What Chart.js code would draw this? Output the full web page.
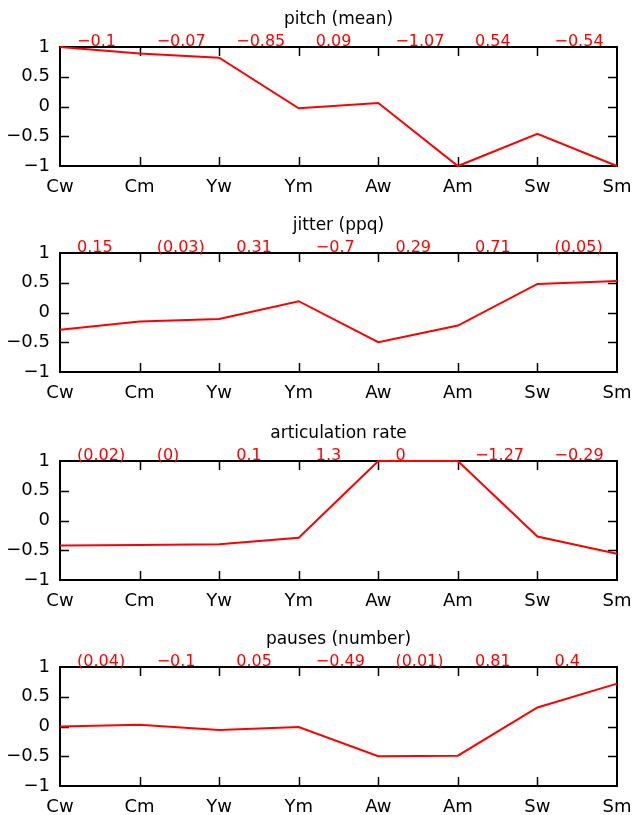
<!DOCTYPE html>
<html>
<head>
<meta charset="utf-8">
<script src="https://cdn.jsdelivr.net/npm/chart.js@4.4.1/dist/chart.umd.min.js"></script>
<style>
  html, body { margin: 0; padding: 0; background: #fff; overflow: hidden; }
  body { width: 634px; height: 815px; position: relative; }
  .panel { position: absolute; left: 0; width: 634px; height: 206px; }
</style>
</head>
<body>
<div class="panel" style="top:0px"><canvas id="c0"></canvas></div>
<div class="panel" style="top:206px"><canvas id="c1"></canvas></div>
<div class="panel" style="top:414px"><canvas id="c2"></canvas></div>
<div class="panel" style="top:620px"><canvas id="c3"></canvas></div>
<script>
'use strict';

/*********** DATA ***********/
var categories = ['Cw', 'Cm', 'Yw', 'Ym', 'Aw', 'Am', 'Sw', 'Sm'];
var titles = ['pitch (mean)', 'jitter (ppq)', 'articulation rate', 'pauses (number)'];

var pitchValues = [1.0, 0.89, 0.82, -0.03, 0.06, -1.0, -0.46, -1.0];
var jitterValues = [-0.29, -0.15, -0.11, 0.19, -0.50, -0.22, 0.48, 0.53];
var articulationValues = [-0.42, -0.41, -0.40, -0.29, 1.0, 1.0, -0.27, -0.56];
var pausesValues = [0.0, 0.03, -0.06, -0.01, -0.50, -0.49, 0.32, 0.72];

var pitchLabels = ['\u22120.1', '\u22120.07', '\u22120.85', '0.09', '\u22121.07', '0.54', '\u22120.54'];
var jitterLabels = ['0.15', '(0.03)', '0.31', '\u22120.7', '0.29', '0.71', '(0.05)'];
var articulationLabels = ['(0.02)', '(0)', '0.1', '1.3', '0', '\u22121.27', '\u22120.29'];
var pausesLabels = ['(0.04)', '\u22120.1', '0.05', '\u22120.49', '(0.01)', '0.81', '0.4'];

var yMin = -1;
var yMax = 1;
var yStep = 0.5;

var allValues = [pitchValues, jitterValues, articulationValues, pausesValues];
var allLabels = [pitchLabels, jitterLabels, articulationLabels, pausesLabels];

/*********** STYLE ***********/
var fontFamily = '"DejaVu Sans", "Liberation Sans", Arial, sans-serif';
var tickLen = 9;

// frame + inward ticks go under the line, texts on top
var framePlugin = {
  id: 'frame',
  beforeDatasetsDraw: function(chart) {
    var ctx = chart.ctx;
    var a = chart.chartArea;
    var xs = chart.scales.x;
    var ys = chart.scales.y;
    ctx.save();
    ctx.strokeStyle = '#000';
    ctx.lineWidth = 1.5;
    ctx.beginPath();
    for (var i = 1; i < categories.length - 1; i++) {
      var px = Math.round(xs.getPixelForValue(i)) + 0.5;
      ctx.moveTo(px, a.bottom); ctx.lineTo(px, a.bottom - tickLen);
      ctx.moveTo(px, a.top); ctx.lineTo(px, a.top + tickLen);
    }
    for (var v = yMin + yStep; v < yMax; v += yStep) {
      var py = Math.round(ys.getPixelForValue(v)) + 0.5;
      ctx.moveTo(a.left, py); ctx.lineTo(a.left + tickLen, py);
      ctx.moveTo(a.right, py); ctx.lineTo(a.right - tickLen, py);
    }
    ctx.stroke();
    ctx.lineWidth = 2;
    ctx.strokeRect(a.left, a.top, a.right - a.left, a.bottom - a.top);
    ctx.restore();
  },
  afterDraw: function(chart) {
    var ctx = chart.ctx;
    var a = chart.chartArea;
    var xs = chart.scales.x;
    var opts = chart.options.plugins.frame;
    ctx.save();
    ctx.fillStyle = '#000';
    ctx.font = '17px ' + fontFamily;
    ctx.textAlign = 'center';
    ctx.textBaseline = 'alphabetic';
    ctx.fillText(opts.title, (a.left + a.right) / 2, a.top - 23);

    // red numbers sit between neighbouring categories
    ctx.fillStyle = '#ff0000';
    ctx.font = '16px ' + fontFamily;
    ctx.textAlign = 'left';
    for (var j = 0; j < opts.labels.length; j++) {
      var x0 = xs.getPixelForValue(j);
      var x1 = xs.getPixelForValue(j + 1);
      ctx.fillText(opts.labels[j], x0 + (x1 - x0) * 0.215, a.top - 1.5);
    }
    ctx.restore();
  }
};

function fmt(v) {
  return v < 0 ? '\u2212' + Math.abs(v) : String(v);
}

function drawPanel(k) {
  var canvas = document.getElementById('c' + k);
  canvas.width = 634;
  canvas.height = 206;
  new Chart(canvas.getContext('2d'), {
    type: 'line',
    data: {
      labels: categories,
      datasets: [{
        data: allValues[k],
        borderColor: '#ff0000',
        borderWidth: 2,
        pointRadius: 0,
        tension: 0,
        clip: 4
      }]
    },
    options: {
      responsive: false,
      animation: false,
      layout: { padding: { top: 47, right: 17, left: 0, bottom: 0 } },
      plugins: {
        legend: { display: false },
        tooltip: { enabled: false },
        frame: { title: titles[k], labels: allLabels[k] }
      },
      scales: {
        x: {
          offset: false,
          grid: { display: false, drawTicks: false },
          border: { display: false },
          ticks: {
            autoSkip: false,
            maxRotation: 0,
            padding: 11,
            color: '#000',
            font: { family: fontFamily, size: 18 }
          },
          afterFit: function(scale) {
            scale.height = 40;
            scale.paddingLeft = 0;
            scale.paddingRight = 0;
          }
        },
        y: {
          min: yMin,
          max: yMax,
          grid: { display: false, drawTicks: false },
          border: { display: false },
          ticks: {
            stepSize: yStep,
            padding: 10,
            color: '#000',
            font: { family: fontFamily, size: 18 },
            callback: function(v) { return fmt(v); }
          },
          afterFit: function(scale) {
            scale.width = 60;
          }
        }
      }
    },
    plugins: [framePlugin]
  });
}

for (var k = 0; k < 4; k++) {
  drawPanel(k);
}
</script>
</body>
</html>
